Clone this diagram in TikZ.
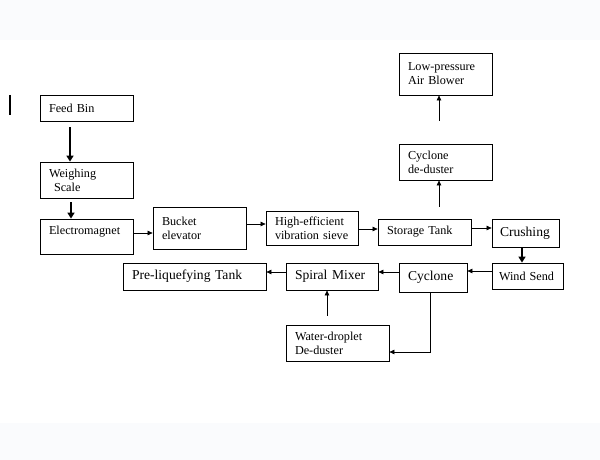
\documentclass[tikz,border=0pt]{standalone}
\usepackage{fontspec}
\setmainfont{Liberation Serif}
\usetikzlibrary{arrows.meta, positioning}
\definecolor{strip}{HTML}{FAFBFD}

\tikzset{
  blk/.style={draw, line width=0.8pt, inner xsep=9pt, inner ysep=2pt, align=left,
    font=\fontsize{12.2}{14}\selectfont},
  big/.style={font=\fontsize{13.6}{15}\selectfont},
  sz/.code 2 args={\pgfmathsetmacro\blkw{#1-18}%
    \edef\blkset{\noexpand\pgfkeysalso{minimum width=#1pt, minimum height=#2pt, text width=\blkw pt}}\blkset},
  arr/.style={-{Triangle[length=5pt,width=4.5pt]}, line width=0.6pt},
  fat/.style={-{Triangle[length=6pt,width=7pt]}, line width=2pt},
}

\begin{document}
\begin{tikzpicture}[x=1pt,y=-1pt]
  % page and grey strips
  \useasboundingbox (0,0) rectangle (600,460);
  \fill[strip] (0,0) rectangle (600,40);
  \fill[strip] (0,423) rectangle (600,460);
  \draw[line width=1.5pt] (10,95) -- (10,115);

  % left column
  \node[blk, sz={93}{26}] (feed) at (86.5,108) {Feed Bin};
  \node[blk, sz={93}{36}] (weigh) at (86.5,180) {Weighing\\\hspace*{5pt}Scale};
  \node[blk, sz={93}{35}, text depth=13pt] (emag) at (86.5,236.5) {Electromagnet};

  % middle row
  \node[blk, sz={93}{42}] (bucket) at (199.5,228) {Bucket\\elevator};
  \node[blk, sz={92}{34}] (sieve) at (312,228) {High-efficient\\vibration sieve};
  \node[blk, sz={93}{26}] (storage) at (424.5,232) {Storage Tank};
  \node[blk, big, sz={67}{28}, inner xsep=8pt, text width=51pt] (crush) at (525.5,233) {Crushing};

  % dust removal column
  \node[blk, sz={93}{36}] (dedust) at (445.5,162) {Cyclone\\de-duster};
  \node[blk, sz={93}{42}] (blower) at (445.5,74) {Low-pressure\\Air Blower};

  % return row
  \node[blk, sz={71}{26}, inner xsep=7pt, text width=57pt] (wind) at (527.5,276) {Wind Send};
  \node[blk, big, sz={68}{29}] (cyclone) at (433,277.5) {Cyclone};
  \node[blk, big, sz={92}{27}] (mixer) at (332,276.5) {Spiral Mixer};
  \node[blk, big, sz={143}{27}] (preliq) at (194.5,276.5) {Pre-liquefying Tank};
  \node[blk, sz={103}{36}] (water) at (337.5,343) {Water-droplet\\De-duster};

  % connectors
  \draw[fat, shorten <=6pt] ([xshift=-16.5pt]feed.south) -- ([xshift=-16.5pt]weigh.north);
  \draw[fat, shorten <=4pt] ([xshift=-15.5pt]weigh.south) -- ([xshift=-15.5pt]emag.north);
  \draw[arr] ([yshift=3.5pt]emag.east) -- ([yshift=-5pt]bucket.west);
  \draw[arr] ([yshift=4pt]bucket.east) -- ([yshift=4pt]sieve.west);
  \draw[arr] ([yshift=-1pt]sieve.east) -- ([yshift=3pt]storage.west);
  \draw[arr] ([yshift=4pt]storage.east) -- ([yshift=5pt]crush.west);
  \draw[fat] ([xshift=-3.5pt]crush.south) -- ([xshift=-5.5pt]wind.north);
  \draw[arr] ([yshift=5pt]wind.west) -- ([yshift=6.5pt]cyclone.east);
  \draw[arr] ([yshift=5.5pt]cyclone.west) -- ([yshift=4.5pt]mixer.east);
  \draw[arr] ([yshift=4.5pt]mixer.west) -- ([yshift=4.5pt]preliq.east);
  \draw[arr] ([xshift=-3pt]cyclone.south) |- ([yshift=-9pt]water.east);
  \draw[arr, shorten <=9pt] ([xshift=-10.5pt]water.north) -- ([xshift=-5pt]mixer.south);
  \draw[arr, shorten <=12pt] ([xshift=14.5pt]storage.north) -- ([xshift=-6.5pt]dedust.south);
  \draw[arr, shorten <=23pt] ([xshift=-6.5pt]dedust.north) -- ([xshift=-6.5pt]blower.south);
\end{tikzpicture}
\end{document}
